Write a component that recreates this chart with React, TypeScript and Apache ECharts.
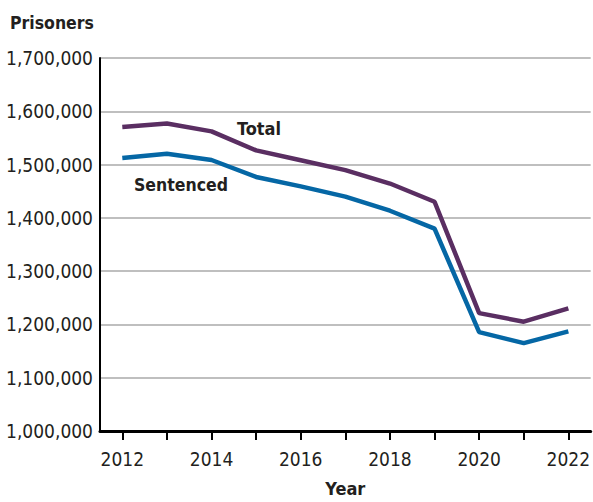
import React, { useEffect, useRef } from "react";
import * as echarts from "echarts";

const years = ["2012", "2013", "2014", "2015", "2016", "2017", "2018", "2019", "2020", "2021", "2022"];
const totalPrisoners = [1570400, 1577000, 1562300, 1526600, 1508100, 1489600, 1464400, 1430200, 1221200, 1205100, 1230100];
const sentencedPrisoners = [1512400, 1520400, 1508600, 1476800, 1459000, 1439800, 1413400, 1379800, 1185600, 1165000, 1187000];

const FONT = "'DejaVu Sans Condensed', 'Liberation Sans', sans-serif";
const TOTAL_COLOR = "#5a2e62";
const SENT_COLOR = "#0567a5";
const TEXT = "#231f20";

export default function App() {
  const ref = useRef<HTMLDivElement>(null);
  useEffect(() => {
    document.body.style.margin = "0";
    if (!ref.current) return;
    const chart = echarts.init(ref.current, null, { renderer: "svg" });
    chart.setOption({
      animation: false,
      textStyle: { fontFamily: FONT },
      title: {
        text: "Prisoners",
        left: 10,
        top: 14,
        padding: 0,
        textStyle: { fontFamily: FONT, fontSize: 17.5, fontWeight: "bold", color: TEXT },
      },
      grid: { left: 100, right: 0, top: 58, bottom: 66, containLabel: false },
      xAxis: {
        type: "category",
        data: years,
        boundaryGap: true,
        name: "Year",
        nameLocation: "middle",
        nameGap: 48,
        nameTextStyle: { fontFamily: FONT, fontSize: 18, fontWeight: "bold", color: TEXT },
        axisLine: { show: true, lineStyle: { color: "#000", width: 3 } },
        axisTick: { show: true, alignWithLabel: true, length: 9, lineStyle: { color: "#000", width: 2 } },
        axisLabel: {
          margin: 18,
          fontFamily: FONT,
          fontSize: 19,
          color: TEXT,
          formatter: (v: string) => (Number(v) % 2 === 0 ? v : ""),
          interval: 0,
        },
        splitLine: { show: false },
      },
      yAxis: {
        type: "value",
        min: 1000000,
        max: 1700000,
        interval: 100000,
        axisLine: { show: true, lineStyle: { color: "#000", width: 2 } },
        axisTick: { show: false },
        axisLabel: {
          margin: 7,
          fontFamily: FONT,
          fontSize: 19,
          color: TEXT,
          formatter: (v: number) => v.toLocaleString("en-US"),
        },
        splitLine: { show: true, lineStyle: { color: "#aaaaaa", width: 1.5 } },
      },
      series: [
        {
          name: "Total",
          type: "line",
          data: totalPrisoners,
          symbol: "none",
          lineStyle: { color: TOTAL_COLOR, width: 4.5 },
          z: 3,
        },
        {
          name: "Sentenced",
          type: "line",
          data: sentencedPrisoners,
          symbol: "none",
          lineStyle: { color: SENT_COLOR, width: 4.5 },
          z: 3,
        },
      ],
      graphic: [
        {
          type: "text",
          left: 237,
          top: 119,
          style: { text: "Total", font: `bold 18px ${FONT}`, fill: TEXT },
        },
        {
          type: "text",
          left: 134,
          top: 176,
          style: { text: "Sentenced", font: `bold 17.5px ${FONT}`, fill: TEXT },
        },
      ],
    });
    return () => chart.dispose();
  }, []);
  return <div ref={ref} style={{ width: 593, height: 502 }} />;
}
